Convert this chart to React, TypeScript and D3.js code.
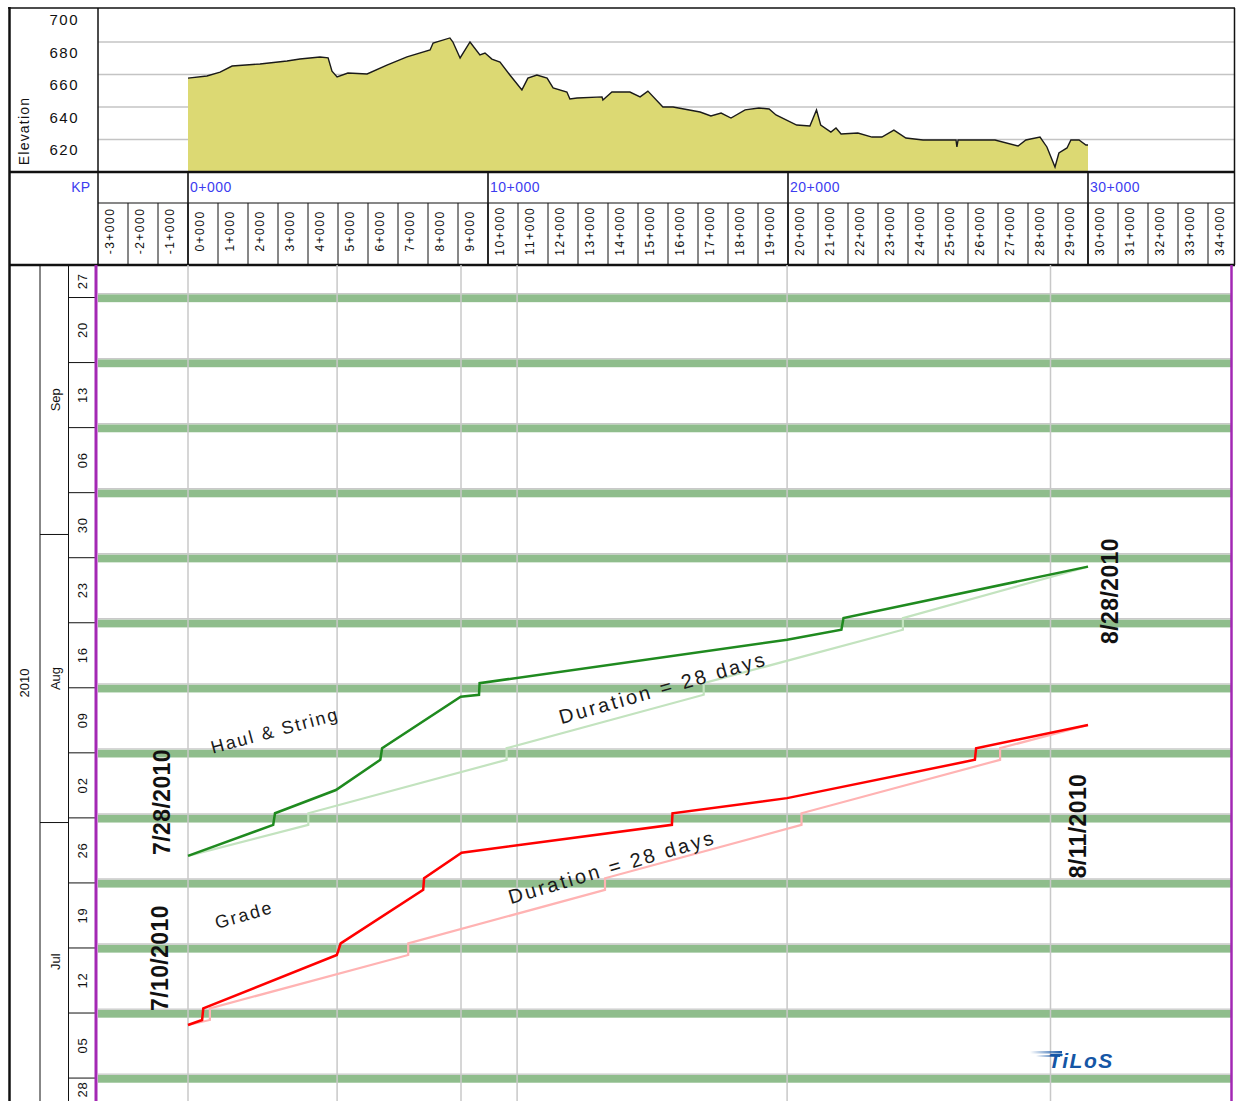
import React from "react";
import * as d3 from "d3";

// ---------- data ----------
const elevationProfile: [number, number][] = [
  [0, 657.8], [0.63, 659.1], [1.07, 661.5], [1.47, 665.2], [2.4, 666.5], [3.3, 668.3],
  [3.73, 669.5], [4.4, 670.8], [4.67, 670.2], [4.8, 662], [4.97, 658.5], [5.33, 660.9],
  [5.97, 660.3], [6.63, 665.8], [7.3, 670.8], [8.07, 675.1], [8.17, 679.4], [8.73, 682.5],
  [8.83, 680], [9.07, 670.2], [9.4, 680], [9.73, 672], [9.9, 673.2], [10.13, 669.5],
  [10.4, 667.7], [10.73, 659.7], [11.13, 650.5], [11.33, 657.8], [11.63, 659.7], [11.97, 657.8],
  [12.17, 651.7], [12.63, 649.2], [12.73, 644.9], [12.97, 645.5], [13.8, 646.2], [13.83, 644.3],
  [14.13, 649.2], [14.73, 649.2], [15.07, 646.2], [15.33, 649.8], [15.83, 640], [16.17, 640],
  [17.07, 636.9], [17.43, 634.5], [17.77, 636.3], [18.1, 633.2], [18.57, 638.2], [19.03, 639.4],
  [19.37, 638.8], [19.6, 635.1], [20.29, 628.9], [20.73, 628.3], [20.95, 638.2], [21.09, 628.9],
  [21.43, 624.6], [21.6, 627.1], [21.77, 623.4], [22.33, 624], [22.8, 621.5], [23.13, 621.5],
  [23.53, 625.8], [23.93, 620.9], [24.5, 619.7], [25.6, 619.7], [25.63, 615.4], [25.67, 619.7],
  [26.9, 619.7], [27.67, 616], [27.93, 619.7], [28.4, 621.5], [28.63, 615.4], [28.9, 603.1],
  [29.03, 611.7], [29.3, 614.8], [29.43, 619.7], [29.7, 619.7], [29.93, 616.6], [30, 616.6],
];
const elevationTicks = [700, 680, 660, 640, 620];
const elevationGrid = [680, 660, 640, 620];
const kpMajor = [0, 10, 20, 30];
const kpMinor = d3.range(-3, 35);
const sectionBreaks = [0, 4.97, 9.1, 10.97, 19.97, 28.75];

const haulString: [number, string][] = [
  [0, "2010-07-28T10:00"], [2.84, "2010-07-31T18:00"], [2.9, "2010-08-02T00:00"],
  [4.93, "2010-08-04T12:00"], [6.41, "2010-08-07T18:00"], [6.47, "2010-08-09T00:00"],
  [9.09, "2010-08-14T13:00"], [9.7, "2010-08-14T18:00"], [9.72, "2010-08-16T00:00"],
  [19.97, "2010-08-20T16:00"], [21.78, "2010-08-21T18:00"], [21.85, "2010-08-23T00:00"],
  [30, "2010-08-28T13:00"],
];
const haulStringPlan: [number, string][] = [
  [0, "2010-07-28T10:00"], [4.01, "2010-07-31T18:00"], [4.01, "2010-08-02T00:00"],
  [10.62, "2010-08-07T18:00"], [10.62, "2010-08-09T00:00"], [17.19, "2010-08-14T18:00"],
  [17.19, "2010-08-16T00:00"], [23.83, "2010-08-21T18:00"], [23.83, "2010-08-23T00:00"],
  [30, "2010-08-28T13:00"],
];
const grade: [number, string][] = [
  [0, "2010-07-10T05:00"], [0.47, "2010-07-10T18:00"], [0.51, "2010-07-12T00:00"],
  [4.96, "2010-07-17T18:00"], [5.09, "2010-07-19T00:00"], [7.84, "2010-07-24T18:00"],
  [7.87, "2010-07-26T00:00"], [9.12, "2010-07-28T18:00"], [16.13, "2010-07-31T18:00"],
  [16.15, "2010-08-02T00:00"], [19.97, "2010-08-03T15:00"], [26.23, "2010-08-07T18:00"],
  [26.27, "2010-08-09T00:00"], [30, "2010-08-11T12:00"],
];
const gradePlan: [number, string][] = [
  [0, "2010-07-10T05:00"], [0.73, "2010-07-10T18:00"], [0.73, "2010-07-12T00:00"],
  [7.34, "2010-07-17T18:00"], [7.34, "2010-07-19T00:00"], [13.9, "2010-07-24T18:00"],
  [13.9, "2010-07-26T00:00"], [20.45, "2010-07-31T18:00"], [20.45, "2010-08-02T00:00"],
  [27.07, "2010-08-07T18:00"], [27.07, "2010-08-09T00:00"], [30, "2010-08-11T12:00"],
];

const dateLabels = [
  { text: "7/28/2010", kp: -0.87, at: "2010-08-03T05:00" },
  { text: "7/10/2010", kp: -0.93, at: "2010-07-17T10:00" },
  { text: "8/28/2010", kp: 30.73, at: "2010-08-25T22:00" },
  { text: "8/11/2010", kp: 29.67, at: "2010-07-31T15:00" },
];
const activityLabels = [
  { text: "Haul & String", kp: 2.9, at: "2010-08-10T21:00", size: 18, ls: 2, angle: -15 },
  { text: "Grade", kp: 1.87, at: "2010-07-22T01:00", size: 18, ls: 2, angle: -16 },
  { text: "Duration = 28 days", kp: 15.83, at: "2010-08-15T12:00", size: 20, ls: 2.6, angle: -16 },
  { text: "Duration = 28 days", kp: 14.13, at: "2010-07-27T05:00", size: 20, ls: 2.6, angle: -16.5 },
];

// ---------- layout ----------
const W = 1236, H = 1101;
const PL = 98, PR = 1232, PT = 265, PB = 1101;
const FONT = "'Liberation Sans', Arial, sans-serif";

const parse = d3.timeParse("%Y-%m-%dT%H:%M");
const xs = d3.scaleLinear().domain([-3, 34.8]).range([PL, PR]);
const eY = d3.scaleLinear().domain([600, 700]).range([172, 9.5]);
const ys = d3.scaleTime().domain([new Date(2010, 6, 2), new Date(2010, 8, 30)]).range([PB + 0.3, PT]);

const clampY = (v: number) => Math.max(PT, Math.min(PB, v));

export default function App() {
  const area = d3.area<[number, number]>().x((d) => xs(d[0])).y0(eY(600)).y1((d) => eY(d[1]));
  const prof = d3.line<[number, number]>().x((d) => xs(d[0])).y((d) => eY(d[1]));
  const act = d3.line<[number, string]>().x((d) => xs(d[0])).y((d) => ys(parse(d[1]) as Date));

  const sundays = d3.timeSunday.range(new Date(2010, 5, 27), new Date(2010, 9, 1));
  const mondays = d3.timeMonday.range(new Date(2010, 5, 28), new Date(2010, 9, 1));
  const months = [new Date(2010, 6, 1), new Date(2010, 7, 1), new Date(2010, 8, 1)];
  const fmtDay = d3.timeFormat("%d");
  const fmtMon = d3.timeFormat("%b");

  return (
    <div style={{ position: "absolute", left: 0, top: 0 }}>
      <svg width={W} height={H} style={{ display: "block", fontFamily: FONT }}>
        <defs>
          <clipPath id="plot">
            <rect x={PL} y={PT} width={PR - PL} height={PB - PT} />
          </clipPath>
          <linearGradient id="speed" x1="0" x2="1" y1="0" y2="0">
            <stop offset="0" stopColor="#1556a5" stopOpacity={0} />
            <stop offset="1" stopColor="#1556a5" stopOpacity={1} />
          </linearGradient>
        </defs>
        <rect x={0} y={0} width={W} height={H} fill="#fff" />

        {/* ---------- elevation panel ---------- */}
        {elevationGrid.map((v) => (
          <line key={v} x1={PL} x2={1234} y1={eY(v)} y2={eY(v)} stroke="#c4c4c4" strokeWidth={1.5} />
        ))}
        <path d={area(elevationProfile) || ""} fill="#dcd973" />
        <path d={prof(elevationProfile) || ""} fill="none" stroke="#1a1a1a" strokeWidth={1.4} />
        {elevationTicks.map((v) => (
          <text key={v} x={79} y={eY(v) + 10} textAnchor="end" dominantBaseline="central"
            fontSize={15} letterSpacing={1.5} fill="#111">{v}</text>
        ))}
        <text transform={`translate(24,131) rotate(-90)`} textAnchor="middle" dominantBaseline="central"
          fontSize={14} letterSpacing={1.2} fill="#111">Elevation</text>

        {/* ---------- KP header ---------- */}
        <text x={90} y={187} textAnchor="end" dominantBaseline="central" fontSize={14} fill="#3c3cf0">KP</text>
        {kpMajor.map((k) => (
          <text key={k} x={xs(k) + 2} y={187} dominantBaseline="central" fontSize={14} letterSpacing={0.5}
            fill="#3c3cf0">{`${k}+000`}</text>
        ))}
        {kpMinor.map((k) => (
          <text key={k} transform={`translate(${xs(k + 0.5) + 1},231) rotate(-90)`} textAnchor="middle"
            fontSize={12} letterSpacing={1.5} fill="#111">{`${k}+000`}</text>
        ))}
        {kpMinor.slice(1).map((k) => (
          <line key={k} x1={xs(k)} x2={xs(k)} y1={203} y2={265} stroke="#111" strokeWidth={1} />
        ))}
        {kpMajor.map((k) => (
          <line key={k} x1={xs(k)} x2={xs(k)} y1={172} y2={265} stroke="#111" strokeWidth={1.6} />
        ))}
        <line x1={PL} x2={1234} y1={203} y2={203} stroke="#111" strokeWidth={1.2} />

        {/* frame */}
        <line x1={8} x2={1235} y1={8} y2={8} stroke="#111" strokeWidth={1.5} />
        <line x1={1234.5} x2={1234.5} y1={8} y2={265} stroke="#111" strokeWidth={1.5} />
        <line x1={PL} x2={PL} y1={8} y2={265} stroke="#111" strokeWidth={1.5} />
        <line x1={9} x2={1235} y1={172} y2={172} stroke="#111" strokeWidth={2.5} />
        <line x1={9} x2={1235} y1={265} y2={265} stroke="#111" strokeWidth={2.5} />
        <line x1={9.5} x2={9.5} y1={7} y2={H} stroke="#111" strokeWidth={2.5} />

        {/* ---------- left time axis ---------- */}
        <line x1={40} x2={40} y1={265} y2={H} stroke="#111" strokeWidth={1} />
        <line x1={68.5} x2={68.5} y1={265} y2={H} stroke="#111" strokeWidth={1} />
        <text transform={`translate(24,${(PT + PB) / 2}) rotate(-90)`} textAnchor="middle"
          dominantBaseline="central" fontSize={13} fill="#111">2010</text>
        {months.map((m) => {
          const top = clampY(ys(d3.timeMonth.offset(m, 1)));
          const bot = clampY(ys(m));
          return (
            <g key={m.getTime()}>
              {ys(m) < PB && ys(m) > PT && (
                <line x1={40} x2={68.5} y1={ys(m)} y2={ys(m)} stroke="#111" strokeWidth={1} />
              )}
              <text transform={`translate(55,${(top + bot) / 2}) rotate(-90)`} textAnchor="middle"
                dominantBaseline="central" fontSize={13} fill="#111">{fmtMon(m)}</text>
            </g>
          );
        })}
        {mondays.map((m) => {
          const bot = clampY(ys(d3.timeHour.offset(m, -12)));
          const top = clampY(ys(d3.timeHour.offset(m, 156)));
          return (
            <g key={m.getTime()}>
              {ys(d3.timeHour.offset(m, -12)) < PB && (
                <line x1={68.5} x2={95} y1={bot} y2={bot} stroke="#111" strokeWidth={1} />
              )}
              <text transform={`translate(82,${(top + bot) / 2}) rotate(-90)`} textAnchor="middle"
                dominantBaseline="central" fontSize={13} letterSpacing={0.8} fill="#111">{fmtDay(m)}</text>
            </g>
          );
        })}

        {/* ---------- plot area ---------- */}
        <g clipPath="url(#plot)">
          {sundays.map((s) => {
            const yTop = ys(d3.timeDay.offset(s, 1));
            const yBot = ys(s);
            return (
              <g key={s.getTime()}>
                <rect x={PL} width={PR - PL} y={yTop + 1.4} height={yBot - yTop - 1.4} fill="#8fbd8c" />
                <line x1={PL} x2={PR} y1={yTop + 0.7} y2={yTop + 0.7} stroke="#c9c9c9" strokeWidth={1.4} />
              </g>
            );
          })}
          {sectionBreaks.map((k) => (
            <line key={k} x1={xs(k)} x2={xs(k)} y1={PT} y2={PB} stroke="#c8c8c8" strokeWidth={1.5} />
          ))}
          <path d={act(haulStringPlan) || ""} fill="none" stroke="#c3e3bf" strokeWidth={2.2} />
          <path d={act(gradePlan) || ""} fill="none" stroke="#ffb3b3" strokeWidth={2.2} />
          <path d={act(haulString) || ""} fill="none" stroke="#1f8a1f" strokeWidth={2.5} strokeLinejoin="miter" />
          <path d={act(grade) || ""} fill="none" stroke="#ff0000" strokeWidth={2.5} strokeLinejoin="miter" />

          {activityLabels.map((l, i) => (
            <text key={i}
              transform={`translate(${xs(l.kp)},${ys(parse(l.at) as Date)}) rotate(${l.angle})`}
              textAnchor="middle" dominantBaseline="central" fontSize={l.size} letterSpacing={l.ls}
              fill="#1a1a1a">{l.text}</text>
          ))}
          {dateLabels.map((l, i) => (
            <text key={i}
              transform={`translate(${xs(l.kp)},${ys(parse(l.at) as Date)}) rotate(-90)`}
              textAnchor="middle" dominantBaseline="central" fontSize={23} fontWeight="bold"
              letterSpacing={0.4} fill="#111">{l.text}</text>
          ))}

          {/* logo */}
          <rect x={1030} y={1051} width={32} height={2.5} fill="url(#speed)" />
          <rect x={1036} y={1055} width={24} height={2} fill="url(#speed)" />
          <text x={1081} y={1068} textAnchor="middle" fontSize={21} fontWeight={900} fontStyle="italic"
            letterSpacing={1.5} fill="#1556a5">TiLoS</text>
        </g>

        <line x1={96} x2={96} y1={265} y2={H} stroke="#a328b4" strokeWidth={3} />
        <line x1={1231.5} x2={1231.5} y1={265} y2={H} stroke="#a328b4" strokeWidth={2.5} />
      </svg>
    </div>
  );
}
